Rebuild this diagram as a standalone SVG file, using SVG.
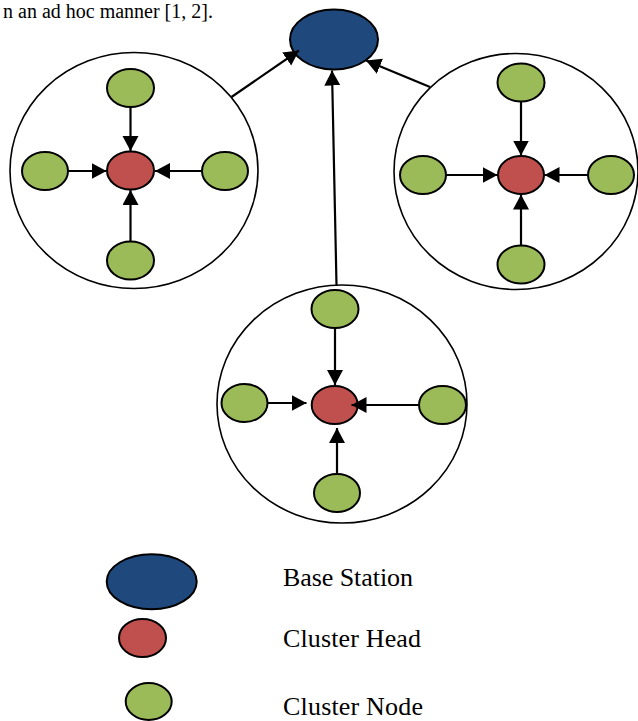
<svg xmlns="http://www.w3.org/2000/svg" width="638" height="721" viewBox="0 0 638 721">
<style>
.cl{fill:#fff;stroke:#000;stroke-width:1.6}
.bs{fill:#1F497D;stroke:#000;stroke-width:2}
.ch{fill:#C0504D;stroke:#000;stroke-width:2}
.cn{fill:#9BBB59;stroke:#000;stroke-width:2}
.ln{stroke:#000;stroke-width:2.2;fill:none;marker-end:url(#ah)}
.tx{font-family:"Liberation Serif","Times New Roman",serif;fill:#000}
</style>
<defs>
<marker id="ah" markerUnits="userSpaceOnUse" markerWidth="17" markerHeight="17" refX="15" refY="8" orient="auto">
<path d="M0,0 L15,8 L0,16 z" fill="#000"/>
</marker>
</defs>
<text class="tx" x="3" y="18" font-size="20">n an ad hoc manner [1, 2].</text>
<g id="cluster-left">
<ellipse class="cl" cx="134" cy="170.5" rx="124" ry="118"/>
<ellipse id="l-head" class="ch" cx="130.5" cy="170.5" rx="23.5" ry="19"/>
<ellipse id="l-top" class="cn" cx="130.5" cy="88" rx="23.5" ry="19"/>
<ellipse id="l-left" class="cn" cx="45" cy="171" rx="23" ry="19"/>
<ellipse id="l-right" class="cn" cx="225" cy="171" rx="23" ry="19"/>
<ellipse id="l-bottom" class="cn" cx="130.5" cy="260.5" rx="23.5" ry="19"/>
</g>
<g id="cluster-right">
<ellipse class="cl" cx="516" cy="171.5" rx="122" ry="118"/>
<ellipse id="r-head" class="ch" cx="521" cy="175" rx="23" ry="19"/>
<ellipse id="r-top" class="cn" cx="521" cy="82.5" rx="23.5" ry="19"/>
<ellipse id="r-left" class="cn" cx="423" cy="175" rx="23" ry="19"/>
<ellipse id="r-right" class="cn" cx="611" cy="175" rx="23" ry="19"/>
<ellipse id="r-bottom" class="cn" cx="521" cy="264.5" rx="23.5" ry="19"/>
</g>
<g id="cluster-bottom">
<ellipse class="cl" cx="342" cy="404" rx="125" ry="119"/>
<ellipse id="b-head" class="ch" cx="334.7" cy="405" rx="23" ry="19"/>
<ellipse id="b-top" class="cn" cx="335" cy="309" rx="23.5" ry="19"/>
<ellipse id="b-left" class="cn" cx="244.5" cy="403" rx="23" ry="19"/>
<ellipse id="b-right" class="cn" cx="442.5" cy="405" rx="23.5" ry="19"/>
<ellipse id="b-bottom" class="cn" cx="337" cy="493" rx="23" ry="19"/>
</g>
<g id="base-station">
<ellipse class="bs" cx="334" cy="39.5" rx="44" ry="30"/>
</g>
<g id="connectors">
<line class="ln" x1="130.5" y1="107" x2="130.5" y2="151"/>
<line class="ln" x1="68" y1="171" x2="106.5" y2="171"/>
<line class="ln" x1="202" y1="171" x2="155" y2="171"/>
<line class="ln" x1="130.5" y1="241.5" x2="130.5" y2="190"/>
<line class="ln" x1="521" y1="101.5" x2="521" y2="155.5"/>
<line class="ln" x1="446" y1="175" x2="497.5" y2="175"/>
<line class="ln" x1="588" y1="175" x2="544.5" y2="175"/>
<line class="ln" x1="521" y1="245.5" x2="521" y2="194.5"/>
<line class="ln" x1="335" y1="328" x2="335" y2="385"/>
<line class="ln" x1="267.5" y1="403" x2="306.5" y2="403"/>
<line class="ln" x1="419" y1="405" x2="351.5" y2="405"/>
<line class="ln" x1="337" y1="474" x2="337" y2="428"/>
<line class="ln" x1="231.5" y1="97" x2="299" y2="50.5"/>
<line class="ln" x1="336.5" y1="285" x2="332" y2="70.5"/>
<line class="ln" x1="430" y1="87" x2="366" y2="60.5"/>
</g>
<g id="legend">
<ellipse class="bs" cx="151.7" cy="581.7" rx="45" ry="27.5"/>
<ellipse class="ch" cx="142.5" cy="638" rx="23.5" ry="19"/>
<ellipse class="cn" cx="148.7" cy="701.5" rx="23" ry="18.5"/>
<text class="tx" x="283" y="586" font-size="26" textLength="130">Base Station</text>
<text class="tx" x="283" y="647" font-size="26" textLength="138">Cluster Head</text>
<text class="tx" x="283" y="715" font-size="26" textLength="140">Cluster Node</text>
</g>
</svg>
